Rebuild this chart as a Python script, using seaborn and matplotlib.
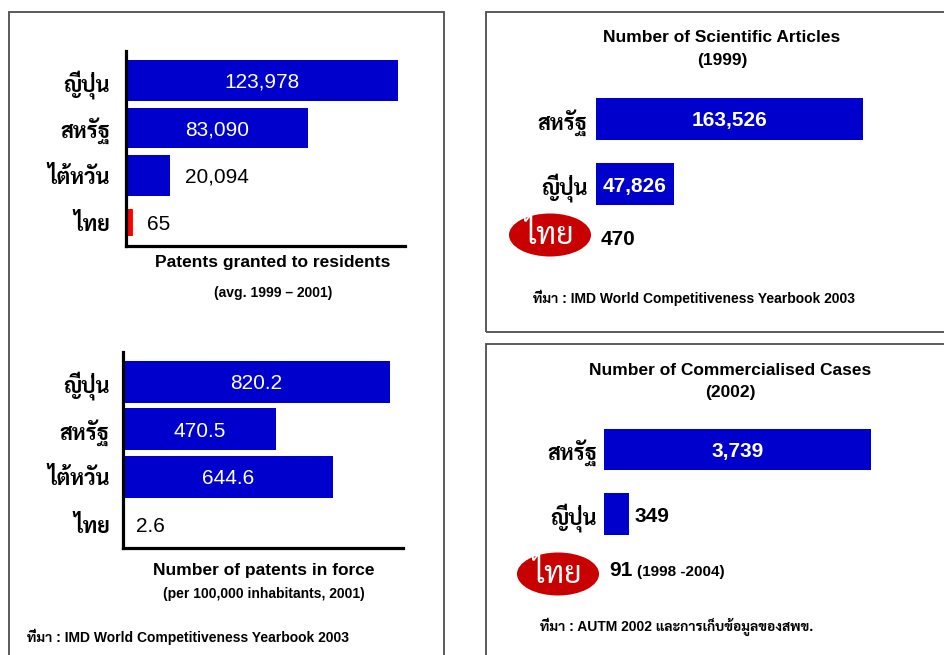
import matplotlib
matplotlib.use("Agg")
import matplotlib.pyplot as plt
from matplotlib import font_manager
from matplotlib.patches import Ellipse, Rectangle
import seaborn as sns
import pandas as pd

# ---- data -------------------------------------------------------------
patent_countries = ["ญี่ปุ่น", "สหรัฐ", "ไต้หวัน", "ไทย"]
patents_granted = [123978, 83090, 20094, 65]          # avg. 1999-2001
patents_in_force = [820.2, 470.5, 644.6, 2.6]         # per 100,000 inhabitants, 2001

article_countries = ["สหรัฐ", "ญี่ปุ่น"]
articles = [163526, 47826]                            # 1999
articles_thai = 470

commercial_countries = ["สหรัฐ", "ญี่ปุ่น"]
commercial_cases = [3739, 349]                        # 2002
commercial_thai = 91
commercial_thai_note = "(1998 -2004)"

THAI = "ไทย"

# ---- style ------------------------------------------------------------
sns.set_theme(style="white")
installed = {f.name for f in font_manager.fontManager.ttflist}
thai_font = next((n for n in ["Sarabun", "Noto Sans Thai", "Niramit", "Athiti"]
                  if n in installed), "DejaVu Sans")
LATIN = "Liberation Sans"
MIXED = [LATIN, thai_font]
plt.rcParams["font.family"] = MIXED

BLUE = "#0000CC"
RED = "#FF0000"
OVAL = "#C80000"
FRAME = "#4d4d4d"

W, H = 945, 655
fig = plt.figure(figsize=(W / 100, H / 100), dpi=100)
fig.patch.set_facecolor("white")


def fx(x):
    return x / W


def fy(y):
    return 1 - y / H


def axes_px(left, top, right, bottom):
    return fig.add_axes([fx(left), fy(bottom), (right - left) / W, (bottom - top) / H])


def frame_px(left, top, right, bottom):
    fig.add_artist(Rectangle((fx(left), fy(bottom)), (right - left) / W, (bottom - top) / H,
                             transform=fig.transFigure, fill=False, ec=FRAME, lw=1.3))


def text_px(x, y, s, size, ha="center", va="center", weight="bold", color="black", family=None):
    fig.text(fx(x), fy(y), s, ha=ha, va=va, fontsize=size, fontweight=weight,
             color=color, family=family or MIXED)


def style_axes(ax, ylim, xmax, pad, label_size, show_spines):
    ax.set_ylim(*ylim)
    ax.set_xlim(0, xmax)
    ax.set_xticks([])
    ax.set_xlabel("")
    ax.set_ylabel("")
    ax.tick_params(axis="y", length=0, pad=pad)
    for lab in ax.get_yticklabels():
        lab.set_fontsize(label_size)
        lab.set_fontweight("bold")
        lab.set_family(thai_font)
        lab.set_color("black")
    for side, sp in ax.spines.items():
        if show_spines and side in ("left", "bottom"):
            sp.set_visible(True)
            sp.set_color("black")
            sp.set_linewidth(2.3)
        else:
            sp.set_visible(False)
    ax.set_facecolor("none")


def value_labels(ax, values, fmt, bold, offsets):
    """White labels centred in the bars; labels too wide for a bar go in black beside it."""
    renderer = fig.canvas.get_renderer()
    for i, (v, off) in enumerate(zip(values, offsets)):
        t = ax.annotate(fmt(v), xy=(v / 2, i), xytext=(0, 0), textcoords="offset points",
                        ha="center", va="center_baseline", fontsize=15, color="white",
                        fontweight="bold" if bold else "normal", family=LATIN)
        bar_px = ax.transData.transform((v, 0))[0] - ax.transData.transform((0, 0))[0]
        if t.get_window_extent(renderer).width + 6 > bar_px:
            t.xy = (v, i)
            t.set_position((off, 0))
            t.set_ha("left")
            t.set_color("black")


def thai_oval(cx, cy, value_x, value_baseline, value, size=15):
    fig.add_artist(Ellipse((fx(cx), fy(cy)), 82 / W, 43 / H, transform=fig.transFigure,
                           fc=OVAL, ec="none"))
    text_px(cx, cy + 9, THAI, 22, va="baseline", weight="normal", color="white",
            family=[thai_font])
    text_px(value_x, value_baseline, value, size, ha="left", va="baseline", family=[LATIN])


# ---- panel frames -------------------------------------------------------
frame_px(9, 12, 444, 675)
frame_px(486, 12, 965, 332)
frame_px(486, 344, 965, 675)

# ---- patents granted to residents --------------------------------------
ax1 = axes_px(126, 51, 405, 246)
df1 = pd.DataFrame({"country": patent_countries, "value": patents_granted})
sns.barplot(data=df1[df1["country"] != THAI], x="value", y="country", order=patent_countries,
            color=BLUE, saturation=1, width=0.86, linewidth=0, ax=ax1)
# the Thai bar is tiny, so it gets a wide red outline to stay visible
sns.barplot(data=df1[df1["country"] == THAI], x="value", y="country", order=patent_countries,
            color=RED, saturation=1, width=0.57, linewidth=10, edgecolor=RED, ax=ax1)
style_axes(ax1, (3.485, -0.62), max(patents_granted) * 1.026, 11.5, 15.5, True)
value_labels(ax1, patents_granted, lambda v: f"{v:,}", False, [11, 11, 11, 15])
text_px(273, 263, "Patents granted to residents", 12.5)
text_px(273, 293, "(avg. 1999 – 2001)", 10)

# ---- patents in force ---------------------------------------------------
ax2 = axes_px(123, 352, 403, 548)
df2 = pd.DataFrame({"country": patent_countries, "value": patents_in_force})
sns.barplot(data=df2, x="value", y="country", order=patent_countries,
            color=BLUE, saturation=1, width=0.88, linewidth=0, ax=ax2)
style_axes(ax2, (3.5, -0.63), max(patents_in_force) * 1.049, 9.5, 15.5, True)
value_labels(ax2, patents_in_force, lambda v: f"{v:.1f}", False, [9] * 4)
text_px(264, 570, "Number of patents in force", 12.5)
text_px(264, 594, "(per 100,000 inhabitants, 2001)", 10)
text_px(27, 637, "ที่มา : IMD World Competitiveness Yearbook 2003", 10, ha="left")

# ---- scientific articles -------------------------------------------------
ax3 = axes_px(596, 90, 880, 260)
df3 = pd.DataFrame({"country": article_countries, "value": articles})
sns.barplot(data=df3, x="value", y="country", order=article_countries,
            color=BLUE, saturation=1, width=0.66, linewidth=0, ax=ax3)
style_axes(ax3, (2.169, -0.446), max(articles) * 1.0637, 6, 15.5, False)
value_labels(ax3, articles, lambda v: f"{v:,}", True, [4, 4])
text_px(722, 38, "Number of Scientific Articles", 12.5)
text_px(722, 61, "(1999)", 12.5)
thai_oval(550, 235, 601, 245, f"{articles_thai:,}")
text_px(533, 298, "ที่มา : IMD World Competitiveness Yearbook 2003", 10, ha="left")

# ---- commercialised cases ------------------------------------------------
ax4 = axes_px(604, 420, 890, 600)
df4 = pd.DataFrame({"country": commercial_countries, "value": commercial_cases})
sns.barplot(data=df4, x="value", y="country", order=commercial_countries,
            color=BLUE, saturation=1, width=0.65, linewidth=0, ax=ax4)
style_axes(ax4, (2.333, -0.457), max(commercial_cases) * 1.071, 5, 15.5, False)
value_labels(ax4, commercial_cases, lambda v: f"{v:,}", True, [4, 4])
text_px(730, 370, "Number of Commercialised Cases", 12.5)
text_px(730, 392, "(2002)", 12.5)
thai_oval(558, 574, 609, 576, f"{commercial_thai:,}")
text_px(637, 576, commercial_thai_note, 11, ha="left", va="baseline", family=[LATIN])
text_px(540, 627, "ที่มา : AUTM 2002 และการเก็บข้อมูลของสพข.", 10, ha="left")

fig.savefig("out.png", dpi=100, facecolor="white")
